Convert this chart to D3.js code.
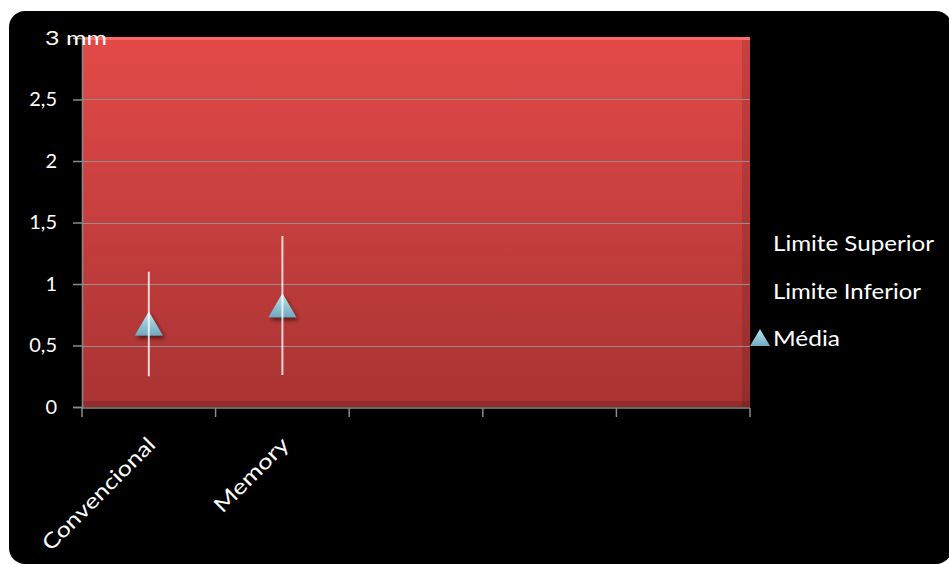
<!DOCTYPE html>
<html>
<head>
<meta charset="utf-8">
<script src="https://cdn.jsdelivr.net/npm/d3@7"></script>
<style>
  html, body { margin: 0; padding: 0; background: #ffffff; }
  svg { display: block; }
  text { font-family: Lato, "Open Sans", sans-serif; fill: #ffffff; }
</style>
</head>
<body>
<svg id="chart" width="949" height="564"></svg>
<script>
// Categories on the x axis (five slots, two of them filled)
const categories = ["Convencional", "Memory", "", " ", "  "];
// Mean value per category (mm)
const media = [0.67, 0.82, null, null, null];
// Upper and lower limits per category (mm)
const limiteSuperior = [1.10, 1.39, null, null, null];
const limiteInferior = [0.25, 0.26, null, null, null];
// Y axis ticks
const yTicks = [0, 0.5, 1, 1.5, 2, 2.5, 3];
const legendLabels = ["Limite Superior", "Limite Inferior", "Média"];

const svg = d3.select("#chart");
const plot = { left: 82, right: 750, top: 37, bottom: 407 };

const defs = svg.append("defs");
const bg = defs.append("linearGradient").attr("id", "plotGrad")
  .attr("x1", 0).attr("y1", 0).attr("x2", 0).attr("y2", 1);
bg.append("stop").attr("offset", "0%").attr("stop-color", "#e24a48");
bg.append("stop").attr("offset", "100%").attr("stop-color", "#a93333");

const tri = defs.append("linearGradient").attr("id", "triGrad")
  .attr("x1", 0).attr("y1", 0).attr("x2", 0).attr("y2", 1);
tri.append("stop").attr("offset", "0%").attr("stop-color", "#bfe6f0");
tri.append("stop").attr("offset", "100%").attr("stop-color", "#6fa9c0");

const shadow = defs.append("filter").attr("id", "shadow")
  .attr("x", "-50%").attr("y", "-50%").attr("width", "200%").attr("height", "200%");
shadow.append("feDropShadow").attr("dx", 2).attr("dy", 3).attr("stdDeviation", 2)
  .attr("flood-color", "#000").attr("flood-opacity", 0.55);

// Black rounded panel
svg.append("rect").attr("x", 9).attr("y", 11).attr("width", 943).attr("height", 553)
  .attr("rx", 16).attr("fill", "#000");

const x = d3.scaleBand().domain(categories).range([plot.left, plot.right]).padding(0);
const y = d3.scaleLinear().domain([0, 3]).range([plot.bottom, plot.top + 1]);

// Plot area with bevel edges
svg.append("rect").attr("x", plot.left).attr("y", plot.top)
  .attr("width", plot.right - plot.left).attr("height", plot.bottom - plot.top)
  .attr("fill", "url(#plotGrad)");
svg.append("rect").attr("x", plot.left).attr("y", plot.top)
  .attr("width", plot.right - plot.left).attr("height", 3).attr("fill", "#ff6a66");
svg.append("rect").attr("x", plot.right - 8).attr("y", plot.top + 3)
  .attr("width", 8).attr("height", plot.bottom - plot.top - 3).attr("fill", "#000").attr("opacity", 0.12);
svg.append("rect").attr("x", plot.left).attr("y", plot.bottom - 6)
  .attr("width", plot.right - plot.left).attr("height", 6).attr("fill", "#000").attr("opacity", 0.12);

// Gridlines
svg.append("g").selectAll("line").data(yTicks.filter(d => d > 0 && d < 3)).join("line")
  .attr("x1", plot.left).attr("x2", plot.right)
  .attr("y1", d => Math.round(y(d)) + 0.5).attr("y2", d => Math.round(y(d)) + 0.5)
  .attr("stroke", "#9a8a8a").attr("stroke-width", 1.2);

// Y axis
const yAxis = svg.append("g").attr("transform", `translate(${plot.left},0)`)
  .call(d3.axisLeft(y).tickValues(yTicks).tickSize(9).tickPadding(16)
    .tickFormat(d => d === 3 ? "3 mm" : String(d).replace(".", ",")));
yAxis.select(".domain").attr("stroke", "#8a8a8a").attr("stroke-width", 1.5);
yAxis.selectAll(".tick line").attr("stroke", "#8a8a8a").attr("stroke-width", 1.5);
yAxis.selectAll(".tick text").attr("font-size", 20).attr("fill", "#fff")
  .style("font-family", "Lato, 'Open Sans', sans-serif");
yAxis.selectAll(".tick").filter(d => d === 3).select("text")
  .attr("text-anchor", "start").attr("x", -37).attr("dy", "0.3em")
  .attr("textLength", 62).attr("lengthAdjust", "spacingAndGlyphs");
yAxis.selectAll(".tick").filter(d => d === 3).select("line").remove();

// X axis with ticks at category boundaries
const xAxis = svg.append("g").attr("transform", `translate(0,${plot.bottom + 1})`);
xAxis.append("line").attr("x1", plot.left).attr("x2", plot.right)
  .attr("stroke", "#8a8a8a").attr("stroke-width", 1.5);
const bounds = categories.map(c => x(c)).concat([plot.right]);
xAxis.selectAll("line.tk").data(bounds).join("line").attr("class", "tk")
  .attr("x1", d => d).attr("x2", d => d).attr("y1", 0).attr("y2", 9)
  .attr("stroke", "#8a8a8a").attr("stroke-width", 1.5);
const xLabelLen = { "Convencional": 150, "Memory": 96 };
xAxis.selectAll("text").data(categories.filter(c => c.trim() !== "")).join("text")
  .attr("transform", c => `translate(${x(c) + x.bandwidth() / 2 + 8},${38}) rotate(-45)`)
  .attr("text-anchor", "end").attr("font-size", 21)
  .attr("textLength", c => xLabelLen[c]).attr("lengthAdjust", "spacingAndGlyphs")
  .text(c => c);

// Mean markers
const rows = categories.map((c, i) => ({ c, m: media[i], hi: limiteSuperior[i], lo: limiteInferior[i] }))
  .filter(d => d.m !== null);
const triPath = "M0,-13 L14,11 L-14,11 Z";
svg.append("g").selectAll("path").data(rows).join("path")
  .attr("transform", d => `translate(${x(d.c) + x.bandwidth() / 2},${y(d.m)})`)
  .attr("d", triPath).attr("fill", "url(#triGrad)").attr("filter", "url(#shadow)");

// Limit bars drawn over the markers
svg.append("g").selectAll("line").data(rows).join("line")
  .attr("x1", d => x(d.c) + x.bandwidth() / 2).attr("x2", d => x(d.c) + x.bandwidth() / 2)
  .attr("y1", d => y(d.hi)).attr("y2", d => y(d.lo))
  .attr("stroke", "#ffffff").attr("stroke-opacity", 0.8).attr("stroke-width", 2);

// Legend
const legend = svg.append("g");
const ly = [243, 291, 338];
const legendLen = [161, 148, 67];
legend.selectAll("text").data(legendLabels).join("text")
  .attr("x", 773).attr("y", (d, i) => ly[i]).attr("dy", "0.35em")
  .attr("font-size", 22)
  .attr("textLength", (d, i) => legendLen[i]).attr("lengthAdjust", "spacingAndGlyphs")
  .text(d => d);
legend.append("path").attr("transform", `translate(760,${ly[2]})`)
  .attr("d", "M0,-9 L10,8 L-10,8 Z").attr("fill", "url(#triGrad)");
</script>
</body>
</html>
